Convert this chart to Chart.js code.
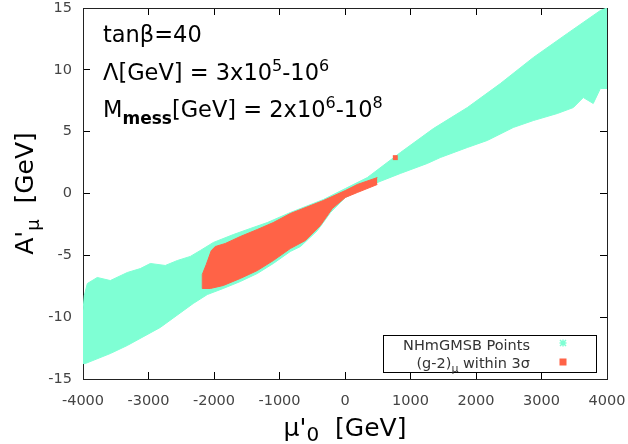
<!DOCTYPE html>
<html>
<head>
<meta charset="utf-8">
<script src="https://cdn.jsdelivr.net/npm/chart.js@4/dist/chart.umd.min.js"></script>
<style>
  html, body { margin: 0; padding: 0; background: #fff; }
  #wrap { width: 628px; height: 444px; }
</style>
</head>
<body>
<div id="wrap"><canvas id="chart"></canvas></div>
<script>
// axis ticks
const xTickValues = [-4000, -3000, -2000, -1000, 0, 1000, 2000, 3000, 4000];
const yTickValues = [-15, -10, -5, 0, 5, 10, 15];

// NHmGMSB points: upper and lower edge of the band (mu'_0, A'_mu)
const cyanUpperX = [-4000, -3980, -3934, -3782, -3583, -3324, -3125, -2972, -2744, -2560, -2362, -2209, -2010, -1705, -1446, -1186, -835, -331, 5, 341, 845, 1349, 1868, 2372, 2876, 3395, 3899, 4000];
const cyanUpperY = [-9.46, -8.25, -7.28, -6.79, -7.04, -6.39, -6.07, -5.66, -5.82, -5.42, -5.09, -4.61, -3.96, -3.32, -2.83, -2.35, -1.54, -0.49, 0.40, 1.29, 3.31, 5.25, 6.95, 8.89, 11.0, 12.94, 14.80, 15.0];
const cyanLowerX = [-4000, -3965, -3583, -3324, -2820, -2316, -2102, -1859, -1599, -1339, -1094, -835, -680, -420, -222, 5, 341, 845, 1257, 1456, 1868, 2173, 2570, 2876, 3242, 3486, 3638, 3790, 3899, 4000];
const cyanLowerY = [-13.75, -13.75, -12.94, -12.29, -10.83, -8.89, -8.17, -7.68, -7.12, -6.47, -5.66, -4.69, -4.29, -2.99, -1.54, -0.32, 0.57, 1.62, 2.43, 2.91, 3.72, 4.29, 5.34, 5.90, 6.47, 6.95, 7.76, 7.28, 8.49, 8.49];

// (g-2)_mu within 3 sigma: region edges plus one isolated point
const redTopX = [-2179, -2179, -2118, -2041, -1980, -1827, -1599, -1339, -1094, -835, -331, 5, 188, 494];
const redTopY = [-7.68, -6.55, -5.74, -4.61, -4.29, -4.04, -3.48, -2.91, -2.35, -1.62, -0.57, 0.24, 0.73, 1.29];
const redBottomX = [-2179, -2056, -1859, -1599, -1339, -1094, -835, -605, -376, -193, 5, 188, 494];
const redBottomY = [-7.68, -7.68, -7.44, -6.87, -6.23, -5.42, -4.45, -3.80, -2.59, -1.21, -0.32, 0.08, 0.73];
const redPointX = [768];
const redPointY = [2.9];

const CYAN = '#7fffd4';
const RED = '#ff6347';
const FONT = '"DejaVu Sans", sans-serif';

function pts(xs, ys) {
  return xs.map((x, i) => ({ x, y: ys[i] }));
}

function edge(xs, ys, color, fill) {
  return {
    data: pts(xs, ys),
    showLine: true,
    borderColor: color,
    backgroundColor: color,
    borderWidth: 1,
    pointRadius: 0,
    fill: fill
  };
}

// draw a row of text pieces (for super/subscripts)
function runsWidth(ctx, runs) {
  let w = 0;
  runs.forEach(r => {
    ctx.font = `${r.w || 'normal'} ${r.s}px ${FONT}`;
    w += ctx.measureText(r.t).width;
  });
  return w;
}
function drawRuns(ctx, runs, x, y) {
  runs.forEach(r => {
    ctx.font = `${r.w || 'normal'} ${r.s}px ${FONT}`;
    ctx.fillText(r.t, x, y + (r.dy || 0));
    x += ctx.measureText(r.t).width;
  });
}

const textPlugin = {
  id: 'texts',
  afterDraw(chart) {
    const ctx = chart.ctx;
    const area = chart.chartArea;
    ctx.save();
    ctx.fillStyle = '#000';
    ctx.textBaseline = 'alphabetic';
    ctx.textAlign = 'left';

    // annotations top-left
    drawRuns(ctx, [{ t: 'tanβ=40', s: 22.5 }], 103, 42);
    drawRuns(ctx, [
      { t: 'Λ[GeV] = 3x10', s: 22.5 }, { t: '5', s: 16, dy: -9 },
      { t: '-10', s: 22.5 }, { t: '6', s: 16, dy: -9 }
    ], 103, 80);
    drawRuns(ctx, [
      { t: 'M', s: 22.5 }, { t: 'mess', s: 17, w: 'bold', dy: 7 },
      { t: '[GeV] = 2x10', s: 22.5 }, { t: '6', s: 16, dy: -9 },
      { t: '-10', s: 22.5 }, { t: '8', s: 16, dy: -9 }
    ], 103, 117);

    // x axis title
    const xRuns = [{ t: 'μ\'', s: 25 }, { t: '0', s: 20, dy: 5 }, { t: '  [GeV]', s: 25 }];
    const xw = runsWidth(ctx, xRuns);
    drawRuns(ctx, xRuns, (area.left + area.right) / 2 - xw / 2, 436);

    // y axis title
    const yRuns = [{ t: 'A\'', s: 25 }, { t: 'μ', s: 18, dy: 6 }, { t: '  [GeV]', s: 25 }];
    const yw = runsWidth(ctx, yRuns);
    ctx.save();
    ctx.translate(33, (area.top + area.bottom) / 2);
    ctx.rotate(-Math.PI / 2);
    drawRuns(ctx, yRuns, -yw / 2, 0);
    ctx.restore();

    // legend box
    ctx.fillStyle = '#fff';
    ctx.fillRect(383.5, 335.5, 213, 37);
    ctx.strokeStyle = '#000';
    ctx.lineWidth = 1;
    ctx.strokeRect(383.5, 335.5, 213, 37);
    ctx.fillStyle = '#333';
    const l1 = [{ t: 'NHmGMSB Points', s: 14.5 }];
    drawRuns(ctx, l1, 530 - runsWidth(ctx, l1), 350);
    const l2 = [{ t: '(g-2)', s: 14.5 }, { t: 'μ', s: 11, dy: 4 }, { t: ' within 3σ', s: 14.5 }];
    drawRuns(ctx, l2, 530 - runsWidth(ctx, l2), 368);

    // legend markers
    ctx.strokeStyle = CYAN;
    ctx.lineWidth = 1.5;
    ctx.beginPath();
    ctx.moveTo(560, 340); ctx.lineTo(566, 346);
    ctx.moveTo(566, 340); ctx.lineTo(560, 346);
    ctx.moveTo(563, 339.5); ctx.lineTo(563, 346.5);
    ctx.moveTo(559.5, 343); ctx.lineTo(566.5, 343);
    ctx.stroke();
    ctx.fillStyle = RED;
    ctx.fillRect(559.5, 358.5, 7, 7);
    ctx.restore();
  }
};

function axisOpts(pos, ticks, showLabels, fitSize) {
  const horiz = pos === 'top' || pos === 'bottom';
  return {
    type: 'linear',
    position: pos,
    min: ticks[0],
    max: ticks[ticks.length - 1],
    afterBuildTicks: s => { s.ticks = ticks.map(v => ({ value: v })); },
    afterFit: s => {
      if (horiz) s.height = fitSize; else s.width = fitSize;
      s.paddingLeft = 0; s.paddingRight = 0;
      s.paddingTop = 0; s.paddingBottom = 0;
    },
    grid: {
      drawOnChartArea: false,
      drawTicks: true,
      tickLength: -7,
      color: '#000',
      lineWidth: 1
    },
    border: { display: true, color: '#222', width: 1 },
    ticks: {
      display: showLabels,
      color: '#444',
      font: { family: FONT, size: 14.5 },
      padding: horiz ? 21 : 18,
      maxRotation: 0,
      autoSkip: false,
      callback: v => String(v)
    }
  };
}

new Chart(document.getElementById('chart'), {
  type: 'scatter',
  data: {
    datasets: [
      {
        data: pts(redPointX, redPointY),
        pointStyle: 'rect',
        pointRadius: 3.5,
        backgroundColor: RED,
        borderColor: RED,
        borderWidth: 0
      },
      edge(redTopX, redTopY, RED, '+1'),
      edge(redBottomX, redBottomY, RED, false),
      edge(cyanUpperX, cyanUpperY, CYAN, '+1'),
      edge(cyanLowerX, cyanLowerY, CYAN, false)
    ]
  },
  options: {
    responsive: true,
    maintainAspectRatio: false,
    animation: false,
    layout: { padding: { top: 8, right: 21, left: 0, bottom: 0 } },
    plugins: {
      legend: { display: false },
      tooltip: { enabled: false }
    },
    scales: {
      x: axisOpts('bottom', xTickValues, true, 65),
      x2: axisOpts('top', xTickValues, false, 0),
      y: axisOpts('left', yTickValues, true, 83),
      y2: axisOpts('right', yTickValues, false, 0)
    }
  },
  plugins: [textPlugin]
});
</script>
</body>
</html>
